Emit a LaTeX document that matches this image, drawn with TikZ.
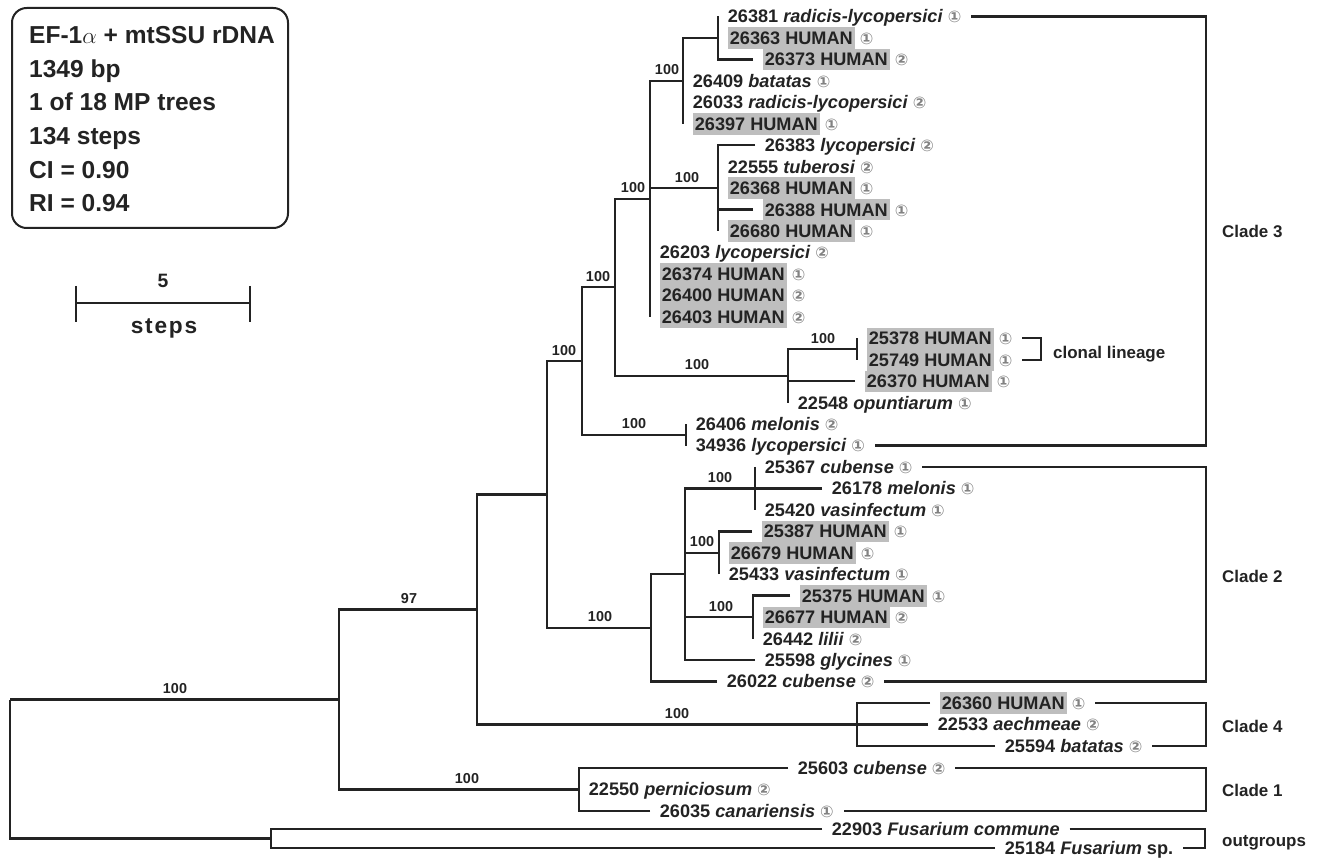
\documentclass[tikz,border=0pt]{standalone}
\usepackage{fontspec}
\setmainfont{Liberation Sans}
\newfontfamily\SymFam{DejaVu Sans}
\usetikzlibrary{calc}
\definecolor{ink}{RGB}{35,35,35}
\definecolor{hl}{RGB}{190,190,190}
\definecolor{cgray}{RGB}{130,130,130}
\newcommand\CircOne{{\SymFam\fontsize{12}{12}\selectfont\color{cgray}①}}
\newcommand\CircTwo{{\SymFam\fontsize{12}{12}\selectfont\color{cgray}②}}
\newcommand\HumBox[1]{{\setlength{\fboxsep}{0pt}\colorbox{hl}{\hspace{1.5pt}\rule[-3.3pt]{0pt}{16.1pt}#1\hspace{1.5pt}}}}
\begin{document}
\begin{tikzpicture}[x=0.75pt,y=-0.75pt,line width=1.8pt,draw=ink,text=ink,
  leaf/.style={anchor=west,inner xsep=6.5pt,inner ysep=0pt,text height=9.7pt,text depth=0pt,font=\fontsize{13.6}{16}\selectfont\bfseries},
  bs/.style={anchor=base,inner sep=0pt,font=\fontsize{10.8}{10.8}\selectfont\bfseries},
  cladelab/.style={anchor=base west,inner sep=0pt,font=\fontsize{12.7}{12.7}\selectfont\bfseries},
  infoline/.style={anchor=base west,inner sep=0pt,font=\fontsize{18.4}{22}\selectfont\bfseries}]
\fill[white] (0,0) rectangle (1317,859);
\useasboundingbox (0,0) rectangle (1317,859);

% info box
\node[draw,rounded corners=11pt,line width=1.5pt,minimum width=207pt,minimum height=165pt,inner sep=0pt] (infobox) at (150,118) {};
\node[infoline] (info1) at (28,43.8) {EF-1$\alpha$ + mtSSU rDNA};
\node[infoline] (info2) at (28,77.4) {1349 bp};
\node[infoline] (info3) at (28,111) {1 of 18 MP trees};
\node[infoline] (info4) at (28,144.6) {134 steps};
\node[infoline] (info5) at (28,178.2) {CI = 0.90};
\node[infoline] (info6) at (28,211.8) {RI = 0.94};

% scale bar
\coordinate (sb1) at (76,303);
\coordinate (sb2) at (250,303);
\coordinate (sb1t) at (76,286);
\coordinate (sb1b) at (76,322);
\coordinate (sb2t) at (250,286);
\coordinate (sb2b) at (250,322);
\draw (sb1) -- (sb2);
\draw (sb1t) -- (sb1b);
\draw (sb2t) -- (sb2b);
\node[anchor=base,inner sep=0pt,font=\fontsize{14.5}{14.5}\selectfont\bfseries] (sbnum) at (163,288) {5};
\node[anchor=base,inner sep=0pt,font=\fontsize{17}{17}\selectfont\bfseries\addfontfeature{LetterSpace=8}] (sbtxt) at (164,333) {steps};

% leaves
\node[leaf] (l0) at (718,16.5) {26381 \textit{radicis-lycopersici} \CircOne};
\node[leaf] (l1) at (718,37.95) {\HumBox{26363 HUMAN} \CircOne};
\node[leaf] (l2) at (753,59.4) {\HumBox{26373 HUMAN} \CircTwo};
\node[leaf] (l3) at (683,80.85) {26409 \textit{batatas} \CircOne};
\node[leaf] (l4) at (683,102.3) {26033 \textit{radicis-lycopersici} \CircTwo};
\node[leaf] (l5) at (683,123.75) {\HumBox{26397 HUMAN} \CircOne};
\node[leaf] (l6) at (755,145.2) {26383 \textit{lycopersici} \CircTwo};
\node[leaf] (l7) at (718,166.65) {22555 \textit{tuberosi} \CircTwo};
\node[leaf] (l8) at (718,188.1) {\HumBox{26368 HUMAN} \CircOne};
\node[leaf] (l9) at (753,209.55) {\HumBox{26388 HUMAN} \CircOne};
\node[leaf] (l10) at (718,231) {\HumBox{26680 HUMAN} \CircOne};
\node[leaf] (l11) at (650,252.45) {26203 \textit{lycopersici} \CircTwo};
\node[leaf] (l12) at (650,273.9) {\HumBox{26374 HUMAN} \CircOne};
\node[leaf] (l13) at (650,295.35) {\HumBox{26400 HUMAN} \CircTwo};
\node[leaf] (l14) at (650,316.8) {\HumBox{26403 HUMAN} \CircTwo};
\node[leaf] (l15) at (857,338.25) {\HumBox{25378 HUMAN} \CircOne};
\node[leaf] (l16) at (857,359.7) {\HumBox{25749 HUMAN} \CircOne};
\node[leaf] (l17) at (855,381.15) {\HumBox{26370 HUMAN} \CircOne};
\node[leaf] (l18) at (788,402.6) {22548 \textit{opuntiarum} \CircOne};
\node[leaf] (l19) at (686,424.05) {26406 \textit{melonis} \CircTwo};
\node[leaf] (l20) at (686,445.5) {34936 \textit{lycopersici} \CircOne};
\node[leaf] (l21) at (755,466.95) {25367 \textit{cubense} \CircOne};
\node[leaf] (l22) at (822,488.4) {26178 \textit{melonis} \CircOne};
\node[leaf] (l23) at (755,509.85) {25420 \textit{vasinfectum} \CircOne};
\node[leaf] (l24) at (752,531.3) {\HumBox{25387 HUMAN} \CircOne};
\node[leaf] (l25) at (719,552.75) {\HumBox{26679 HUMAN} \CircOne};
\node[leaf] (l26) at (719,574.2) {25433 \textit{vasinfectum} \CircOne};
\node[leaf] (l27) at (790,595.65) {\HumBox{25375 HUMAN} \CircOne};
\node[leaf] (l28) at (753,617.1) {\HumBox{26677 HUMAN} \CircTwo};
\node[leaf] (l29) at (753,638.55) {26442 \textit{lilii} \CircTwo};
\node[leaf] (l30) at (755,660) {25598 \textit{glycines} \CircOne};
\node[leaf] (l31) at (717,681.45) {26022 \textit{cubense} \CircTwo};
\node[leaf] (l32) at (930,702.9) {\HumBox{26360 HUMAN} \CircOne};
\node[leaf] (l33) at (928,724.35) {22533 \textit{aechmeae} \CircTwo};
\node[leaf] (l34) at (995,745.8) {25594 \textit{batatas} \CircTwo};
\node[leaf] (l35) at (788,768) {25603 \textit{cubense} \CircTwo};
\node[leaf] (l36) at (579,789.5) {22550 \textit{perniciosum} \CircTwo};
\node[leaf] (l37) at (650,811) {26035 \textit{canariensis} \CircOne};
\node[leaf] (l38) at (822,829) {22903 \textit{Fusarium commune}};
\node[leaf] (l39) at (995,848) {25184 \textit{Fusarium} sp.};

% internal nodes
\coordinate (A) at (718,37.95);
\coordinate (B) at (683,80.85);
\coordinate (T) at (718,188.1);
\coordinate (C) at (650,198.8);
\coordinate (G) at (857,349);
\coordinate (F) at (788,375.8);
\coordinate (D) at (615,287.3);
\coordinate (H) at (686,434.8);
\coordinate (E) at (582,361);
\coordinate (J) at (755,488.4);
\coordinate (K) at (719,552.75);
\coordinate (L) at (753,617.1);
\coordinate (I) at (685,574.2);
\coordinate (M) at (651,627.8);
\coordinate (N) at (547,494.4);
\coordinate (Q) at (857,724.35);
\coordinate (P) at (477,609.4);
\coordinate (R) at (579,789.5);
\coordinate (O) at (339,699.5);
\coordinate (S) at (271,838.5);
\coordinate (root) at (10,699.5);

% edges
\foreach \c in {l0,l1,l2} \draw (\c.west) -| (A);
\draw (A) -| (B);
\foreach \c in {l3,l4,l5} \draw (\c.west) -| (B);
\foreach \c in {l6,l7,l8,l9,l10} \draw (\c.west) -| (T);
\draw (B) -| (C);
\draw (T) -| (C);
\foreach \c in {l11,l12,l13,l14} \draw (\c.west) -| (C);
\foreach \c in {l15,l16} \draw (\c.west) -| (G);
\draw (G) -| (F);
\foreach \c in {l17,l18} \draw (\c.west) -| (F);
\draw (C) -| (D);
\draw (F) -| (D);
\foreach \c in {l19,l20} \draw (\c.west) -| (H);
\draw (D) -| (E);
\draw (H) -| (E);
\foreach \c in {l21,l22,l23} \draw (\c.west) -| (J);
\foreach \c in {l24,l25,l26} \draw (\c.west) -| (K);
\foreach \c in {l27,l28,l29} \draw (\c.west) -| (L);
\draw (J) -| (I);
\draw (K) -| (I);
\draw (L) -| (I);
\draw (l30.west) -| (I);
\draw (I) -| (M);
\draw (l31.west) -| (M);
\draw (E) -| (N);
\draw (M) -| (N);
\foreach \c in {l32,l33,l34} \draw (\c.west) -| (Q);
\draw (N) -| (P);
\draw (Q) -| (P);
\foreach \c in {l35,l36,l37} \draw (\c.west) -| (R);
\draw (P) -| (O);
\draw (R) -| (O);
\foreach \c in {l38,l39} \draw (\c.west) -| (S);
\draw (O) -| (root);
\draw (S) -| (root);

% bootstrap values
\node[bs] (bsB) at (667,74.85) {100};
\node[bs] (bsT) at (687,182.1) {100};
\node[bs] (bsC) at (633,192.8) {100};
\node[bs] (bsD) at (598,281.3) {100};
\node[bs] (bsE) at (564,355) {100};
\node[bs] (bsF) at (697,369.8) {100};
\node[bs] (bsG) at (823,343) {100};
\node[bs] (bsH) at (634,428.8) {100};
\node[bs] (bsJ) at (720,482.4) {100};
\node[bs] (bsK) at (702,546.75) {100};
\node[bs] (bsL) at (721,611.1) {100};
\node[bs] (bsM) at (600,621.8) {100};
\node[bs] (bsQ) at (677,718.35) {100};
\node[bs] (bsP) at (409,603.4) {97};
\node[bs] (bsR) at (467,783.5) {100};
\node[bs] (bsO) at (175,693.5) {100};

% brackets
\coordinate (cl) at (1041,349);
\coordinate (c3) at (1206,233);
\coordinate (c2) at (1206,576);
\coordinate (c4) at (1206,724);
\coordinate (c1) at (1206,789);
\coordinate (og) at (1205,838);
\draw (l15.east) -| (cl) |- (l16.east);
\draw (l0.east) -| (c3) |- (l20.east);
\draw (l21.east) -| (c2) |- (l31.east);
\draw (l32.east) -| (c4) |- (l34.east);
\draw (l35.east) -| (c1) |- (l37.east);
\draw (l38.east) -| (og) |- (l39.east);

\node[cladelab] (clonal) at (1052,358) {clonal lineage};
\node[cladelab] (clade3) at (1221,238) {Clade 3};
\node[cladelab] (clade2) at (1221,582) {Clade 2};
\node[cladelab] (clade4) at (1221,732) {Clade 4};
\node[cladelab] (clade1) at (1221,796) {Clade 1};
\node[cladelab] (outg) at (1221,846) {outgroups};
\end{tikzpicture}
\end{document}
